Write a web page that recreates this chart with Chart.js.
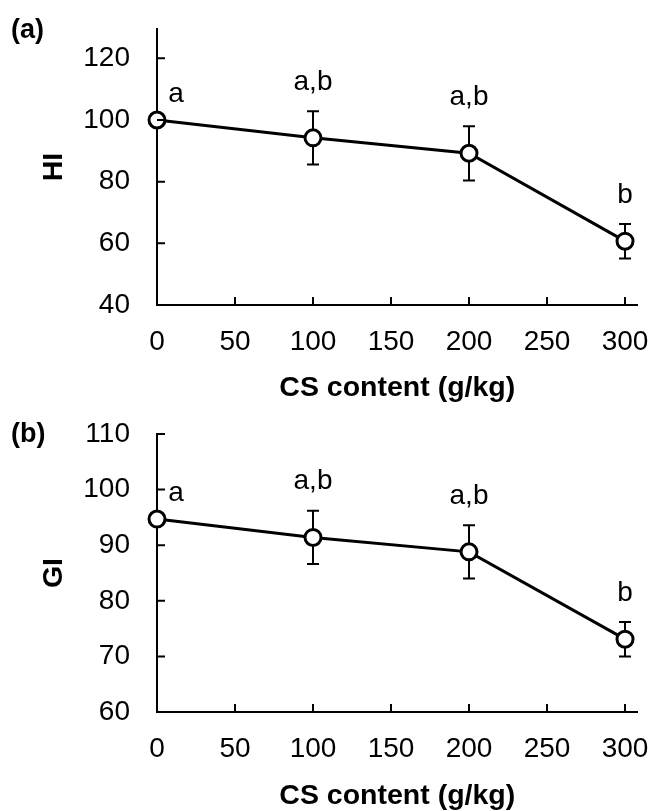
<!DOCTYPE html>
<html>
<head>
<meta charset="utf-8">
<script src="https://cdn.jsdelivr.net/npm/chart.js@4.4.1/dist/chart.umd.min.js"></script>
<style>
  body { margin: 0; background: #fff; }
  .panel { position: relative; width: 649px; height: 405px; }
  .tag { position: absolute; font: bold 27px "Liberation Sans", Arial, sans-serif; color: #000; line-height: 30px; }
</style>
</head>
<body>
<div class="panel"><canvas id="chartA"></canvas><div class="tag" style="left:11px;top:14px">(a)</div></div>
<div class="panel"><canvas id="chartB"></canvas><div class="tag" style="left:11px;top:13px">(b)</div></div>
<script>
/******************************************************************
DATA
******************************************************************/
var content = [0, 100, 200, 300];
var xTicks = [0, 50, 100, 150, 200, 250, 300];

var hiMean = [100, 94.2, 89.2, 60.7];
var hiErr = [0, 8.6, 8.8, 5.6];
var hiLetters = ["a", "a,b", "a,b", "b"];
var hiTicks = [40, 60, 80, 100, 120];

var giMean = [94.7, 91.4, 88.8, 73.1];
var giErr = [0, 4.8, 4.8, 3.1];
var giLetters = ["a", "a,b", "a,b", "b"];
var giTicks = [60, 70, 80, 90, 100, 110];

var FONT = '"Liberation Sans", Arial, sans-serif';

/******************************************************************
PLUGINS
******************************************************************/
// error bars (under the markers) + significance letters
var errorBars = {
  id: 'errorBars',
  beforeDatasetsDraw: function (chart, args, opts) {
    var ctx = chart.ctx, xs = chart.scales.x, ys = chart.scales.y;
    ctx.save();
    ctx.strokeStyle = '#000';
    ctx.lineWidth = 2;
    opts.mean.forEach(function (m, i) {
      if (!opts.err[i]) return;
      var x = xs.getPixelForValue(content[i]);
      var yt = ys.getPixelForValue(m + opts.err[i]);
      var yb = ys.getPixelForValue(m - opts.err[i]);
      ctx.beginPath();
      ctx.moveTo(x, yt); ctx.lineTo(x, yb);
      ctx.moveTo(x - 6, yt); ctx.lineTo(x + 6, yt);
      ctx.moveTo(x - 6, yb); ctx.lineTo(x + 6, yb);
      ctx.stroke();
    });
    ctx.restore();
  },
  afterDatasetsDraw: function (chart, args, opts) {
    var ctx = chart.ctx, xs = chart.scales.x, ys = chart.scales.y;
    ctx.save();
    ctx.fillStyle = '#000';
    ctx.font = '28px ' + FONT;
    ctx.textAlign = 'center';
    ctx.textBaseline = 'middle';
    opts.mean.forEach(function (m, i) {
      var x = xs.getPixelForValue(content[i]);
      var y;
      if (opts.err[i]) {
        y = ys.getPixelForValue(m + opts.err[i]) - 29;
      } else {
        x += 19;
        y = ys.getPixelForValue(m) - 26;
      }
      ctx.fillText(opts.letters[i], x, y);
    });
    ctx.restore();
  }
};

// tick marks pointing into the plot
var inwardTicks = {
  id: 'inwardTicks',
  afterDraw: function (chart) {
    var ctx = chart.ctx, xs = chart.scales.x, ys = chart.scales.y, a = chart.chartArea;
    ctx.save();
    ctx.strokeStyle = '#000';
    ctx.lineWidth = 2;
    ctx.beginPath();
    xs.ticks.forEach(function (t) {
      var x = xs.getPixelForValue(t.value);
      ctx.moveTo(x, a.bottom); ctx.lineTo(x, a.bottom - 8);
    });
    ys.ticks.forEach(function (t) {
      var y = ys.getPixelForValue(t.value);
      ctx.moveTo(a.left, y); ctx.lineTo(a.left + 8, y);
    });
    ctx.stroke();
    ctx.restore();
  }
};

/******************************************************************
CHART BUILDER
******************************************************************/
function makeChart(id, mean, err, letters, yTicks, yMin, yMax, yTitle, xHeight, titlePad) {
  var ctx = document.getElementById(id).getContext('2d');
  return new Chart(ctx, {
    type: 'line',
    data: {
      datasets: [{
        data: content.map(function (c, i) { return { x: c, y: mean[i] }; }),
        borderColor: '#000',
        borderWidth: 3,
        pointRadius: 8,
        pointBorderWidth: 3,
        pointBackgroundColor: '#fff',
        pointBorderColor: '#000',
        tension: 0,
        clip: false
      }]
    },
    options: {
      responsive: true,
      maintainAspectRatio: false,
      animation: false,
      layout: { padding: { left: 0, right: 11.5, top: 29, bottom: 0 } },
      plugins: {
        legend: { display: false },
        tooltip: { enabled: false },
        errorBars: { mean: mean, err: err, letters: letters }
      },
      scales: {
        x: {
          type: 'linear',
          min: 0,
          max: 308,
          afterBuildTicks: function (s) { s.ticks = xTicks.map(function (v) { return { value: v }; }); },
          afterFit: function (s) { s.height = xHeight; s.paddingLeft = 0; s.paddingRight = 0; },
          grid: { display: false, drawTicks: false, tickLength: 0 },
          border: { display: true, color: '#000', width: 2 },
          ticks: { color: '#000', font: { family: FONT, size: 28 }, padding: 20, maxRotation: 0 },
          title: { display: true, text: 'CS content (g/kg)', color: '#000',
                   font: { family: FONT, size: 28.5, weight: 'bold' }, padding: { top: 0, bottom: titlePad } }
        },
        y: {
          min: yMin,
          max: yMax,
          afterBuildTicks: function (s) { s.ticks = yTicks.map(function (v) { return { value: v }; }); },
          afterFit: function (s) { s.width = 157; s.paddingTop = 0; s.paddingBottom = 0; },
          grid: { display: false, drawTicks: false, tickLength: 0 },
          border: { display: true, color: '#000', width: 2 },
          ticks: { color: '#000', font: { family: FONT, size: 28 }, padding: 27 },
          title: { display: true, text: yTitle, color: '#000',
                   font: { family: FONT, size: 28.5, weight: 'bold' }, padding: { top: 37, bottom: 0 } }
        }
      }
    },
    plugins: [errorBars, inwardTicks]
  });
}

makeChart('chartA', hiMean, hiErr, hiLetters, hiTicks, 40, 129.5, 'HI', 100, 0);
makeChart('chartB', giMean, giErr, giLetters, giTicks, 60, 110, 'GI', 98, -3);
</script>
</body>
</html>
